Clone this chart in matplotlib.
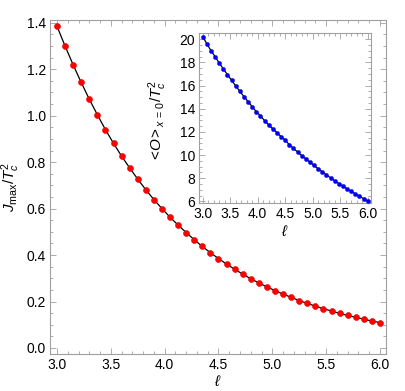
import matplotlib
matplotlib.use("Agg")
import matplotlib.pyplot as plt
from matplotlib.ticker import MultipleLocator

plt.rcParams['font.family'] = ['Liberation Sans', 'DejaVu Sans']
plt.rcParams['mathtext.fontset'] = 'custom'
plt.rcParams['mathtext.rm'] = 'Liberation Sans'
plt.rcParams['mathtext.it'] = 'Liberation Sans:italic'
plt.rcParams['mathtext.bf'] = 'Liberation Sans:bold'

# data
ell = [3.0 + 0.075 * i for i in range(41)]
jmax = [1.385, 1.300, 1.219, 1.143, 1.071, 1.004, 0.940, 0.881, 0.826, 0.775,
        0.727, 0.681, 0.639, 0.600, 0.563, 0.529, 0.497, 0.466, 0.437, 0.410,
        0.385, 0.361, 0.339, 0.318, 0.298, 0.280, 0.263, 0.247, 0.232, 0.218,
        0.204, 0.192, 0.180, 0.169, 0.159, 0.149, 0.140, 0.132, 0.124, 0.116,
        0.109]
cond = [20.22, 19.62, 19.02, 18.50, 17.95, 17.44, 16.94, 16.46, 15.97, 15.51,
        15.05, 14.62, 14.18, 13.75, 13.38, 12.97, 12.60, 12.26, 11.93, 11.60,
        11.28, 10.90, 10.57, 10.27, 9.96, 9.67, 9.38, 9.10, 8.82, 8.55,
        8.28, 8.03, 7.78, 7.54, 7.31, 7.08, 6.86, 6.65, 6.44, 6.24, 6.05]

W, H = 405, 391
fig = plt.figure(figsize=(W / 100, H / 100), dpi=100)

def style(ax, xmaj, xmin, ymaj, ymin):
    for s in ax.spines.values():
        s.set_color('#a0a0a0')
        s.set_linewidth(0.8)
    ax.xaxis.set_major_locator(MultipleLocator(xmaj))
    ax.xaxis.set_minor_locator(MultipleLocator(xmin))
    ax.yaxis.set_major_locator(MultipleLocator(ymaj))
    ax.yaxis.set_minor_locator(MultipleLocator(ymin))
    ax.tick_params(which='both', direction='in', top=True, right=True,
                   color='#a0a0a0', labelsize=10, labelcolor='black', width=0.6)
    ax.tick_params(which='major', length=4.5, pad=3)
    ax.tick_params(which='minor', length=2.5)

# main axes
ax = fig.add_axes([50 / W, 1 - 354 / H, 336 / W, 334 / H])
ax.plot(ell, jmax, color='black', lw=0.9, zorder=2)
ax.plot(ell, jmax, 'o', color='#ff0000', ms=4.3, mec='#e00000', mew=0.4, zorder=3)
ax.set_xlim(2.935, 6.056)
ax.set_ylim(-0.026, 1.412)
style(ax, 0.5, 0.1, 0.2, 0.05)
ax.xaxis.set_major_formatter(plt.FuncFormatter(lambda v, p: f"{v:.1f}"))
ax.yaxis.set_major_formatter(plt.FuncFormatter(lambda v, p: f"{v:.1f}"))
ax.set_xlabel(r"$\ell$", fontsize=11, labelpad=1)
ax.set_ylabel(r"$J_{\rm max}/T_c^2$", fontsize=11)
ax.yaxis.set_label_coords(-0.084, 0.5)

# inset
ins = fig.add_axes([199.3 / W, 1 - 203 / H, 171.7 / W, 170 / H])
ins.set_facecolor('white')
ins.plot(ell, cond, color='black', lw=0.9, zorder=2)
ins.plot(ell, cond, 'o', color='#0000ff', ms=3.0, mec='#0000cc', mew=0.3, zorder=3)
ins.set_xlim(2.938, 6.06)
ins.set_ylim(5.86, 20.54)
style(ins, 0.5, 0.1, 2, 0.5)
ins.xaxis.set_major_formatter(plt.FuncFormatter(lambda v, p: f"{v:.1f}"))
ins.set_xlabel(r"$\ell$", fontsize=11, labelpad=2)
ins.set_ylabel(r"$<\!O\!>_{x\,=\,0}/T_c^2$", fontsize=11)
ins.yaxis.set_label_coords(-0.174, 0.48)

fig.savefig("out.png", dpi=100)
